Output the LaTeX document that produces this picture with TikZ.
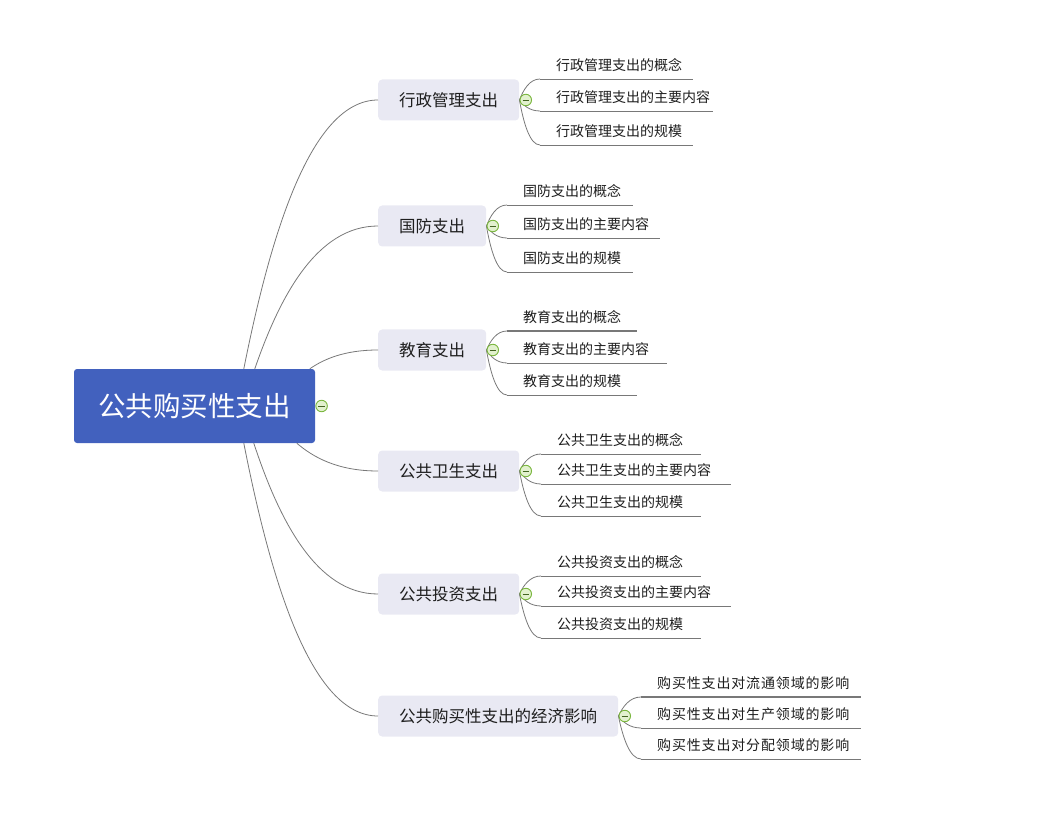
\documentclass[tikz,border=0pt]{standalone}
\usepackage{fontspec}
\setmainfont{Noto Sans CJK SC}
\usetikzlibrary{calc,positioning}

\definecolor{rootblue}{RGB}{66,97,190}
\definecolor{topicgray}{RGB}{233,233,243}
\definecolor{linkgray}{RGB}{120,120,120}
\definecolor{textdark}{RGB}{30,30,30}
\definecolor{foldgreen}{RGB}{122,182,62}
\definecolor{foldfill}{RGB}{226,241,206}

\tikzset{
  root/.style={fill=rootblue, text=white, rounded corners=3pt,
    minimum width=241pt, minimum height=74pt, inner sep=0pt,
    font=\fontsize{27.5}{30}\selectfont},
  topic/.style={fill=topicgray, text=textdark, rounded corners=4pt,
    minimum height=41pt, inner xsep=21pt, inner ysep=0pt, anchor=west,
    font=\fontsize{16.5}{18}\selectfont},
  leaf/.style={text=textdark, inner sep=0pt, anchor=west,
    font=\fontsize{14}{16}\selectfont},
  wideleaf/.style={leaf, font=\fontsize{14}{16}\selectfont\addfontfeature{LetterSpace=6}},
  fold/.style={circle, draw=foldgreen, fill=foldfill, line width=0.9pt,
    minimum size=11.5pt, inner sep=0pt,
    path picture={\draw[foldgreen!55!black, line width=0.9pt]
      ($(path picture bounding box.center)+(-3.2,0)$) --
      ($(path picture bounding box.center)+(3.2,0)$);}},
  link/.style={draw=linkgray, line width=0.8pt},
}

% curved link, leaves steeply and arrives level
\newcommand\mmcurve[2]{%
  \draw[link] let \p1=(#1), \p2=(#2) in
    (\p1) .. controls ({\x1+0.2*(\x2-\x1)},{\y1+0.5*(\y2-\y1)})
             and ({0.5*(\x1+\x2)},\y2) .. (\p2);}

% underlined subtopic
\newcommand\mmleaf[8][]{%
  \coordinate (#2) at (#4,#5);
  \coordinate (#2e) at (#6,#5);
  \mmcurve{#3}{#2}
  \draw[link,#1] (#2) -- (#2e);
  \node[#7] (#2t) at ($(#2)+(16,-14)$) {#8};}

\begin{document}
\begin{tikzpicture}[x=1pt,y=-1pt]
  \useasboundingbox (0,0) rectangle (1037,813);

  \node[root] (root) at (194.5,406) {公共购买性支出};

  \node[topic] (t1) at (378,100) {行政管理支出};
  \node[topic] (t2) at (378,226) {国防支出};
  \node[topic] (t3) at (378,350) {教育支出};
  \node[topic] (t4) at (378,471) {公共卫生支出};
  \node[topic] (t5) at (378,594) {公共投资支出};
  \node[topic] (t6) at (378,716) {公共购买性支出的经济影响};

  % where the main links leave the root
  \coordinate (r1) at ($(root.north west)+(170,0)$);
  \coordinate (r2) at ($(root.north west)+(181,0)$);
  \coordinate (r3) at ($(root.north west)+(236,0)$);
  \coordinate (r4) at ($(root.south west)+(223,0)$);
  \coordinate (r5) at ($(root.south west)+(180,0)$);
  \coordinate (r6) at ($(root.south west)+(170,0)$);

  \mmcurve{r1}{t1.west}
  \mmcurve{r2}{t2.west}
  \mmcurve{r3}{t3.west}
  \mmcurve{r4}{t4.west}
  \mmcurve{r5}{t5.west}
  \mmcurve{r6}{t6.west}

  \mmleaf{a1}{t1.east}{540}{79}{693}{leaf}{行政管理支出的概念}
  \mmleaf{a2}{t1.east}{540}{111}{713}{leaf}{行政管理支出的主要内容}
  \mmleaf{a3}{t1.east}{540}{145}{693}{leaf}{行政管理支出的规模}

  \mmleaf{b1}{t2.east}{507}{205}{633}{leaf}{国防支出的概念}
  \mmleaf{b2}{t2.east}{507}{238}{660}{leaf}{国防支出的主要内容}
  \mmleaf{b3}{t2.east}{507}{272}{633}{leaf}{国防支出的规模}

  \mmleaf[line width=1.6pt]{c1}{t3.east}{507}{331}{637}{leaf}{教育支出的概念}
  \mmleaf{c2}{t3.east}{507}{363}{667}{leaf}{教育支出的主要内容}
  \mmleaf{c3}{t3.east}{507}{395}{637}{leaf}{教育支出的规模}

  \mmleaf{d1}{t4.east}{541}{454}{701}{leaf}{公共卫生支出的概念}
  \mmleaf{d2}{t4.east}{541}{484}{731}{leaf}{公共卫生支出的主要内容}
  \mmleaf{d3}{t4.east}{541}{516}{701}{leaf}{公共卫生支出的规模}

  \mmleaf{e1}{t5.east}{541}{576}{701}{leaf}{公共投资支出的概念}
  \mmleaf{e2}{t5.east}{541}{606}{731}{leaf}{公共投资支出的主要内容}
  \mmleaf{e3}{t5.east}{541}{638}{701}{leaf}{公共投资支出的规模}

  \mmleaf[line width=1.6pt]{g1}{t6.east}{641}{697}{861}{wideleaf}{购买性支出对流通领域的影响}
  \mmleaf{g2}{t6.east}{641}{728}{861}{wideleaf}{购买性支出对生产领域的影响}
  \mmleaf{g3}{t6.east}{641}{759}{861}{wideleaf}{购买性支出对分配领域的影响}

  % fold markers on top of the links
  \node[fold, right=0.2pt of root] (f0) {};
  \node[fold, right=0.2pt of t1] (f1) {};
  \node[fold, right=0.2pt of t2] (f2) {};
  \node[fold, right=0.2pt of t3] (f3) {};
  \node[fold, right=0.2pt of t4] (f4) {};
  \node[fold, right=0.2pt of t5] (f5) {};
  \node[fold, right=0.2pt of t6] (f6) {};
\end{tikzpicture}
\end{document}
